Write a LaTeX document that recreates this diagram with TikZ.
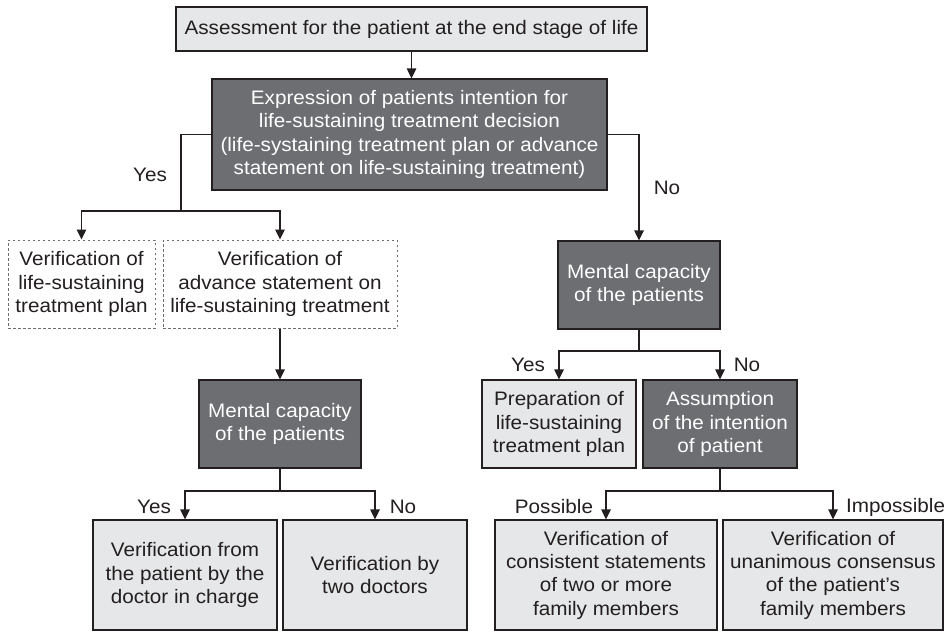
\documentclass[tikz,border=0pt]{standalone}
\usepackage{fontspec}
\setmainfont{Liberation Sans}[FakeStretch=1.06]
\usetikzlibrary{arrows.meta}
\definecolor{lightfill}{HTML}{E6E7E8}
\definecolor{darkfill}{HTML}{6D6E71}
\definecolor{ink}{HTML}{231F20}
\definecolor{dotgray}{HTML}{6D6E71}
\begin{document}
\begin{tikzpicture}[x=1pt,y=-1pt,
  every node/.style={font=\fontsize{19.5}{23.3}\selectfont, inner sep=0pt, align=center, text=ink},
  lbox/.style={draw=ink, fill=lightfill, line width=1.2pt},
  dbox/.style={draw=ink, fill=darkfill, line width=1.2pt, text=white},
  dotbox/.style={draw=dotgray, line width=1pt, dash pattern=on 2.5pt off 2.5pt},
  conn/.style={draw=ink, line width=1.2pt},
  arr/.style={conn, -{Triangle[width=9.5pt,length=10pt]}}]
\useasboundingbox (0,0) rectangle (944,633);

\node[lbox, minimum width=471pt, minimum height=44pt] (top) at (411.5,29) {Assessment for the patient at the end stage of life};
\node[dbox, minimum width=395pt, minimum height=111pt] (expr) at (409.5,134.5) {Expression of patients intention for\\life-sustaining treatment decision\\(life-systaining treatment plan or advance\\statement on life-sustaining treatment)};

\node[dotbox, minimum width=147pt, minimum height=88pt] (v1) at (81.5,284) {Verification of\\life-sustaining\\treatment plan};
\node[dotbox, minimum width=234pt, minimum height=88pt] (v2) at (280,284) {Verification of\\advance statement on\\life-sustaining treatment};

\node[dbox, minimum width=162pt, minimum height=88pt] (mc1) at (280,424) {Mental capacity\\of the patients};
\node[dbox, minimum width=162pt, minimum height=88pt] (mc2) at (639,285) {Mental capacity\\of the patients};

\node[lbox, minimum width=154pt, minimum height=88pt] (prep) at (559,424) {Preparation of\\life-sustaining\\treatment plan};
\node[dbox, minimum width=154pt, minimum height=88pt] (assum) at (720,424) {Assumption\\of the intention\\of patient};

\node[lbox, minimum width=184pt, minimum height=110pt] (b1) at (185,575) {Verification from\\the patient by the\\doctor in charge};
\node[lbox, minimum width=184pt, minimum height=110pt] (b2) at (375,575) {Verification by\\two doctors};
\node[lbox, minimum width=222pt, minimum height=110pt] (b3) at (606,575) {Verification of\\consistent statements\\of two or more\\family members};
\node[lbox, minimum width=220pt, minimum height=110pt] (b4) at (833,575) {Verification of\\unanimous consensus\\of the patient’s\\family members};

\coordinate (yj) at (181,211);
\coordinate (j1) at (280,491);
\coordinate (j2) at (639,351);
\coordinate (j3) at (720,491);

\draw[arr] (top.south) -- (top.south |- expr.north);
\draw[conn] (expr.west) -| (yj);
\draw[arr] (yj) -| (v1.north);
\draw[arr] (yj) -| (v2.north);
\draw[arr] (expr.east) -| (mc2.north);
\draw[arr] (v2.south) -- (mc1.north);
\draw[conn] (mc1.south) -- (j1);
\draw[arr] (j1) -| (b1.north);
\draw[arr] (j1) -| (b2.north);
\draw[conn] (mc2.south) -- (j2);
\draw[arr] (j2) -| (prep.north);
\draw[arr] (j2) -| (assum.north);
\draw[conn] (assum.south) -- (j3);
\draw[arr] (j3) -| (b3.north);
\draw[arr] (j3) -| (b4.north);

\node (lyes1) at (150,175) {Yes};
\node (lno1) at (667,188) {No};
\node (lyes2) at (528,365) {Yes};
\node (lno2) at (747,365) {No};
\node (lyes3) at (154,507) {Yes};
\node (lno3) at (403,507) {No};
\node (lpos) at (554,507) {Possible};
\node[anchor=west] (limp) at (846,507) {Impossible};
\end{tikzpicture}
\end{document}
